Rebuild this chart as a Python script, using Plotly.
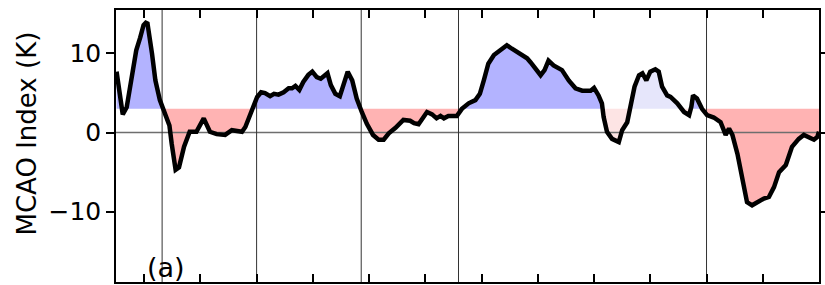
import plotly.graph_objects as go

# ---- data (time in years from first tick, index in K) ----
t = [-0.49, -0.38, -0.31, -0.14, -0.07, -0.01, 0.03, 0.06, 0.14, 0.20, 0.28, 0.37, 0.45, 0.49,
     0.56, 0.62, 0.71, 0.81, 0.93, 1.06, 1.17, 1.29, 1.44, 1.56, 1.74, 1.80, 1.89, 2.01, 2.08,
     2.15, 2.24, 2.31, 2.39, 2.48, 2.57, 2.63, 2.69, 2.76, 2.83, 2.92, 2.99, 3.07, 3.14, 3.26,
     3.32, 3.40, 3.48, 3.55, 3.62, 3.70, 3.78, 3.87, 3.96, 4.07, 4.17, 4.26, 4.35, 4.47, 4.61,
     4.73, 4.80, 4.88, 4.97, 5.03, 5.12, 5.20, 5.27, 5.33, 5.41, 5.56, 5.65, 5.77, 5.89, 5.97,
     6.04, 6.12, 6.22, 6.30, 6.45, 6.54, 6.66, 6.81, 6.87, 6.96, 7.05, 7.12, 7.19, 7.28, 7.43,
     7.55, 7.67, 7.79, 7.94, 8.00, 8.08, 8.14, 8.17, 8.23, 8.32, 8.44, 8.50, 8.59, 8.65, 8.72,
     8.80, 8.86, 8.93, 9.00, 9.09, 9.15, 9.21, 9.30, 9.36, 9.48, 9.60, 9.69, 9.73, 9.76, 9.83,
     9.92, 10.01, 10.13, 10.25, 10.30, 10.34, 10.40, 10.46, 10.55, 10.64, 10.72, 10.81, 10.90,
     11.02, 11.11, 11.20, 11.29, 11.41, 11.52, 11.64, 11.73, 11.82, 11.91, 11.97, 12.00]
mcao = [7.7, 2.3, 3.2, 10.4, 12.0, 13.6, 13.9, 13.8, 10.0, 6.6, 4.1, 2.4, 0.9, -1.4,
        -4.7, -4.4, -1.8, 0.1, 0.1, 1.8, 0.1, -0.2, -0.3, 0.3, 0.1, 0.7, 2.4, 4.5, 5.1,
        5.0, 4.6, 4.9, 4.8, 5.1, 5.6, 5.6, 5.9, 5.4, 6.4, 7.3, 7.7, 7.0, 6.8, 7.5,
        6.0, 4.9, 4.6, 6.2, 7.7, 6.6, 4.3, 2.6, 1.1, -0.3, -0.9, -0.9, -0.1, 0.6, 1.6,
        1.5, 1.2, 1.05, 1.9, 2.6, 2.3, 1.8, 2.1, 1.8, 2.1, 2.1, 3.0, 3.7, 4.1, 4.9,
        6.6, 8.7, 9.8, 10.2, 11.05, 10.6, 10.1, 9.4, 8.9, 8.0, 7.25, 7.9, 9.1, 8.5, 7.9,
        6.6, 5.6, 5.3, 5.3, 5.65, 4.7, 3.7, 2.0, 0.1, -0.8, -1.2, 0.3, 1.3, 3.2, 5.8,
        7.25, 7.5, 6.6, 7.7, 8.0, 7.7, 5.8, 4.7, 4.5, 3.7, 2.6, 2.2, 3.25, 4.7, 4.3,
        3.0, 2.2, 1.9, 1.3, 0.5, -0.3, 0.5, -0.3, -2.7, -5.8, -8.8, -9.2, -8.8,
        -8.35, -8.15, -6.9, -5.0, -4.1, -1.8, -0.8, -0.3, -0.55, -0.9, -0.55, 0.1]
threshold = 3.0
regime_lines = [0.32, 2.0, 3.86, 5.59, 10.0]
pale_span = [8.17, 9.73]
x_ticks = list(range(0, 13))
y_ticks = [-10, 0, 10]
x_range = [-0.5, 12.0]
y_range = [-18.9, 15.5]

BLUE, RED = '#b3b3ff', '#ffb3b3'
PALE_BLUE, PALE_RED = '#e6e6fb', '#fde4e4'

# ---- split into segments at threshold crossings ----
segments = []
cur_x, cur_y = [], []
for i in range(len(t)):
    if i > 0:
        y0, y1 = mcao[i - 1] - threshold, mcao[i] - threshold
        if (y0 < 0) != (y1 < 0) and y0 != y1:
            xc = t[i - 1] + (t[i] - t[i - 1]) * (y0 / (y0 - y1))
            cur_x.append(xc); cur_y.append(threshold)
            segments.append((cur_x, cur_y))
            cur_x, cur_y = [xc], [threshold]
    cur_x.append(t[i]); cur_y.append(mcao[i])
segments.append((cur_x, cur_y))

fig = go.Figure()
for sx, sy in segments:
    above = sum(v - threshold for v in sy) > 0
    mid = 0.5 * (sx[0] + sx[-1])
    pale = pale_span[0] <= mid <= pale_span[1]
    col = (PALE_BLUE if pale else BLUE) if above else (PALE_RED if pale else RED)
    px = [sx[0]] + sx + [sx[-1]]
    py = [threshold] + sy + [threshold]
    fig.add_trace(go.Scatter(x=px, y=py, mode='lines', fill='toself', fillcolor=col,
                             line=dict(width=0), hoverinfo='skip', showlegend=False))

# zero line
fig.add_trace(go.Scatter(x=x_range, y=[0, 0], mode='lines',
                         line=dict(color='#6e6e6e', width=1.5), hoverinfo='skip', showlegend=False))
# regime lines
for xv in regime_lines:
    fig.add_trace(go.Scatter(x=[xv, xv], y=y_range, mode='lines',
                             line=dict(color='#333333', width=1), hoverinfo='skip', showlegend=False))

fig.add_trace(go.Scatter(x=t, y=mcao, mode='lines', line=dict(color='black', width=4.5),
                         showlegend=False))

FONT = 'DejaVu Sans'
fig.update_layout(
    width=825, height=285,
    margin=dict(l=116, r=6, t=10, b=3, autoexpand=False),
    plot_bgcolor='white', paper_bgcolor='white',
    font=dict(family=FONT, color='black'),
    xaxis=dict(range=x_range, tickvals=x_ticks, showticklabels=False, ticks='inside',
               ticklen=8, tickwidth=1.5, tickcolor='black', mirror='ticks', showline=True,
               linecolor='black', linewidth=1.5, showgrid=False, zeroline=False),
    yaxis=dict(range=y_range, tickvals=y_ticks, ticks='outside', ticklen=8, tickwidth=1.5,
               tickcolor='black', mirror='ticks', showline=True, linecolor='black',
               linewidth=1.5, showgrid=False, zeroline=False,
               tickfont=dict(family=FONT, size=25, color='black')),
    annotations=[
        dict(text='MCAO Index (K)', xref='paper', yref='paper', x=-0.1266, y=0.546,
             xanchor='center', yanchor='middle', textangle=-90, showarrow=False,
             font=dict(family=FONT, size=26, color='black')),
        dict(text='(a)', xref='paper', yref='paper', x=0.0711, y=0.0515,
             xanchor='center', yanchor='middle', showarrow=False,
             font=dict(family=FONT, size=27, color='black')),
    ],
)

fig.write_html('out.html', config={'displayModeBar': False},
               post_script="document.body.style.margin='0';document.body.style.padding='0';")
